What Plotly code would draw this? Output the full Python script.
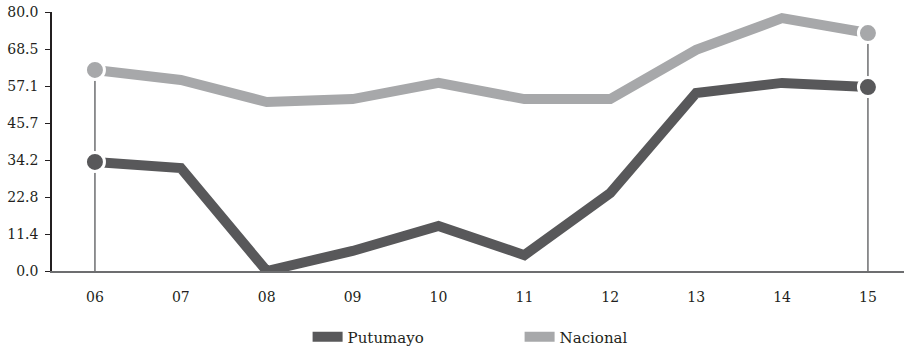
import plotly.graph_objects as go

years = ["06", "07", "08", "09", "10", "11", "12", "13", "14", "15"]
putumayo = [33.7, 31.8, 0.0, 6.2, 13.9, 4.9, 24.1, 55.0, 58.1, 56.8]
nacional = [62.1, 59.0, 52.2, 53.1, 58.1, 53.1, 53.1, 68.3, 78.1, 73.5]
ytick_vals = [0.0, 11.4, 22.8, 34.2, 45.7, 57.1, 68.5, 80.0]

dark = "#58585a"
light = "#a7a8aa"
font = "DejaVu Serif"

x = list(range(len(years)))
fig = go.Figure()

# vertical guides at first and last year
for i in (0, len(years) - 1):
    fig.add_trace(go.Scatter(x=[i, i], y=[0, nacional[i]], mode="lines",
                             line=dict(color="#6d6e70", width=1.5),
                             showlegend=False, hoverinfo="skip"))

for name, vals, col in [("Putumayo", putumayo, dark), ("Nacional", nacional, light)]:
    fig.add_trace(go.Scatter(x=x, y=vals, mode="lines", name=name,
                             line=dict(color=col, width=10)))
    ends = [0, len(years) - 1]
    fig.add_trace(go.Scatter(x=ends, y=[vals[i] for i in ends], mode="markers",
                             marker=dict(color=col, size=19, line=dict(color="white", width=3)),
                             showlegend=False, hoverinfo="skip"))

fig.update_layout(
    width=904, height=349,
    margin=dict(l=52, r=0, t=12, b=78, autoexpand=False),
    plot_bgcolor="white", paper_bgcolor="white",
    font=dict(family=font, size=14, color="#231f20"),
    legend=dict(orientation="h", x=0.30, xanchor="left", y=-0.255, yanchor="middle",
                entrywidth=167, font=dict(size=15)),
)
fig.update_xaxes(range=[-0.5, 9.42], tickvals=x, ticktext=years, showgrid=False,
                 zeroline=False, showline=True, linecolor="#6d6e70", linewidth=1.5,
                 ticks="", ticklabelstandoff=12)
fig.update_yaxes(range=[0, 80], tickvals=ytick_vals, ticktext=[f"{v:.1f}" for v in ytick_vals],
                 showgrid=False, zeroline=False, showline=True, linecolor="#231f20",
                 linewidth=1.5, ticks="outside", ticklen=5, tickcolor="#231f20",
                 ticklabelstandoff=4)

# drop the default body margin so the figure fills the window
fig.write_html("out.html", config={"displayModeBar": False},
               post_script="document.body.style.margin='0';document.body.style.overflow='hidden';")
